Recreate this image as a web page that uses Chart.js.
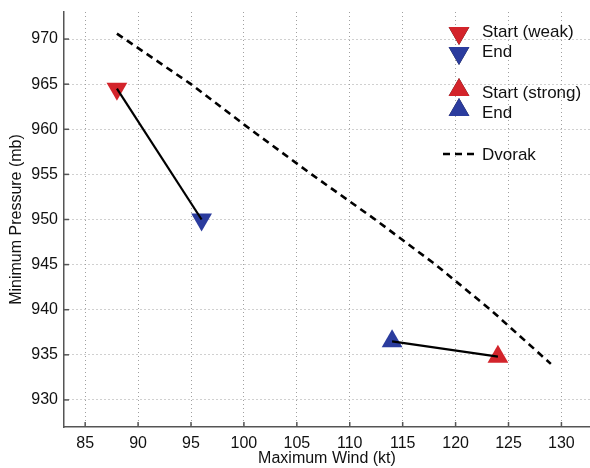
<!DOCTYPE html>
<html>
<head>
<meta charset="utf-8">
<script src="https://cdn.jsdelivr.net/npm/chart.js@4"></script>
<style>
    html, body { margin: 0; padding: 0; background: #fff; overflow: hidden; }
    #wrap { width: 590px; height: 468px; position: relative; }
</style>
</head>
<body>
<div id="wrap"><canvas id="chart"></canvas></div>
<script>
// Values
const weakWind = [88, 96];
const weakPressure = [964.5, 950];
const strongWind = [124, 114];
const strongPressure = [934.8, 936.5];
const dvorakWind = [88, 95, 100.6, 106.4, 112.4, 118.1, 123.3, 129];
const dvorakPressure = [970.6, 965, 960, 955, 950, 945, 940, 934];
const legendLabels = ['Start (weak)', 'End', 'Start (strong)', 'End', 'Dvorak'];
const xTitle = 'Maximum Wind (kt)';
const yTitle = 'Minimum Pressure (mb)';

const RED = '#d3242b';
const BLUE = '#2b3c9e';
const FONT = '"Liberation Sans", Arial, sans-serif';

const toPoints = (xs, ys) => xs.map((x, i) => ({ x: x, y: ys[i] }));

const marker = (point, color, rotation) => ({
    data: [point],
    showLine: false,
    pointStyle: 'triangle',
    pointRotation: rotation,
    pointRadius: 12,
    backgroundColor: color,
    borderColor: color,
    borderWidth: 0,
    order: 2
});

const weakPts = toPoints(weakWind, weakPressure);
const strongPts = toPoints(strongWind, strongPressure);

// Ticks pointing into the plot, like the original figure
const innerTicks = {
    id: 'innerTicks',
    afterDraw(chart) {
        const { ctx, chartArea, scales } = chart;
        ctx.save();
        ctx.strokeStyle = '#555';
        ctx.lineWidth = 1.5;
        scales.x.ticks.forEach(t => {
            const px = scales.x.getPixelForValue(t.value);
            ctx.beginPath();
            ctx.moveTo(px, chartArea.bottom);
            ctx.lineTo(px, chartArea.bottom - 5);
            ctx.stroke();
        });
        scales.y.ticks.forEach(t => {
            const py = scales.y.getPixelForValue(t.value);
            ctx.beginPath();
            ctx.moveTo(chartArea.left, py);
            ctx.lineTo(chartArea.left + 5, py);
            ctx.stroke();
        });
        ctx.restore();
    }
};

// Legend in the upper right corner
const cornerLegend = {
    id: 'cornerLegend',
    afterDraw(chart) {
        const ctx = chart.ctx;
        const mx = 459, tx = 482;
        const rows = [
            { y: 31, color: RED, rot: 180 },
            { y: 51, color: BLUE, rot: 180 },
            { y: 92, color: RED, rot: 0 },
            { y: 112, color: BLUE, rot: 0 },
            { y: 154, dash: true }
        ];
        ctx.save();
        ctx.font = '17px ' + FONT;
        ctx.textBaseline = 'middle';
        rows.forEach((r, i) => {
            if (r.dash) {
                ctx.strokeStyle = '#000';
                ctx.lineWidth = 2.5;
                ctx.setLineDash([7, 5]);
                ctx.beginPath();
                ctx.moveTo(443, r.y);
                ctx.lineTo(479, r.y);
                ctx.stroke();
                ctx.setLineDash([]);
            } else {
                const off = r.rot ? 2 : -2;
                Chart.helpers.drawPoint(ctx, {
                    pointStyle: 'triangle', rotation: r.rot, radius: 12, borderWidth: 0
                }, mx, r.y + off);
                ctx.fillStyle = r.color;
                ctx.fill();
            }
            ctx.fillStyle = '#111';
            ctx.fillText(legendLabels[i], tx, r.y + 1);
        });
        ctx.restore();
    }
};

new Chart(document.getElementById('chart'), {
    type: 'scatter',
    data: {
        datasets: [
            {
                data: weakPts, showLine: true, borderColor: '#000', borderWidth: 2.2,
                pointRadius: 0, order: 0
            },
            {
                data: strongPts, showLine: true, borderColor: '#000', borderWidth: 2.2,
                pointRadius: 0, order: 0
            },
            {
                data: toPoints(dvorakWind, dvorakPressure), showLine: true, borderColor: '#000',
                borderWidth: 2.6, borderDash: [7, 5], pointRadius: 0, order: 1
            },
            marker(weakPts[0], RED, 180),
            marker(weakPts[1], BLUE, 180),
            marker(strongPts[0], RED, 0),
            marker(strongPts[1], BLUE, 0)
        ]
    },
    options: {
        responsive: true,
        maintainAspectRatio: false,
        animation: false,
        // point radius would otherwise push the plot area in by 13px
        layout: { autoPadding: false, padding: { top: 12, right: 0, left: 0, bottom: 0 } },
        plugins: {
            legend: { display: false },
            tooltip: { enabled: false }
        },
        scales: {
            x: {
                type: 'linear',
                min: 83,
                max: 132.7,
                afterFit: s => { s.height = 41; s.paddingLeft = 0; s.paddingRight = 0; },
                ticks: {
                    stepSize: 5, includeBounds: false, padding: 7,
                    color: '#111', font: { family: FONT, size: 16 }
                },
                grid: {
                    color: '#a0a0a0', lineWidth: 1, drawTicks: false
                },
                border: { display: true, color: '#555', width: 1.5, dash: [1, 3] },
                title: {
                    display: true, text: xTitle, color: '#111',
                    font: { family: FONT, size: 16 }, padding: { top: 6, bottom: 0 }
                }
            },
            y: {
                type: 'linear',
                min: 927,
                max: 973,
                afterFit: s => { s.width = 64; s.paddingTop = 0; s.paddingBottom = 0; },
                ticks: {
                    stepSize: 5, includeBounds: false, padding: 6,
                    color: '#111', font: { family: FONT, size: 16 }
                },
                grid: {
                    color: '#a0a0a0', lineWidth: 1, drawTicks: false
                },
                border: { display: true, color: '#555', width: 1.5, dash: [1, 3] },
                title: {
                    display: true, text: yTitle, color: '#111',
                    font: { family: FONT, size: 16 }, padding: { top: 7, bottom: 0 }
                }
            }
        }
    },
    plugins: [innerTicks, cornerLegend]
});
</script>
</body>
</html>
